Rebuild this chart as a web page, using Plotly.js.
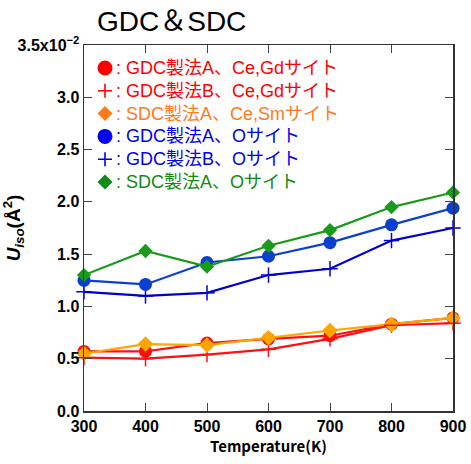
<!DOCTYPE html>
<html><head><meta charset="utf-8">
<script src="https://cdn.plot.ly/plotly-3.0.1.min.js"></script>
<style>html,body{margin:0;padding:0;background:#fff}</style>
</head><body>
<div id="chart" style="width:471px;height:464px"></div>
<script>
var temps = [300, 400, 500, 600, 700, 800, 900];
// values in units of 1e-2 Å^2
var gdcA_CeGd = [0.57, 0.57, 0.65, 0.69, 0.72, 0.83, 0.89];
var gdcB_CeGd = [0.51, 0.50, 0.54, 0.59, 0.69, 0.82, 0.84];
var sdcA_CeSm = [0.55, 0.64, 0.63, 0.70, 0.77, 0.83, 0.89];
var gdcA_O = [1.25, 1.21, 1.42, 1.48, 1.61, 1.78, 1.94];
var gdcB_O = [1.14, 1.10, 1.13, 1.30, 1.36, 1.63, 1.75];
var sdcA_O = [1.30, 1.53, 1.38, 1.58, 1.73, 1.95, 2.09];
var yTickVals = [0, 0.5, 1.0, 1.5, 2.0, 2.5, 3.0, 3.5];
var yTickText = ['0.0', '0.5', '1.0', '1.5', '2.0', '2.5', '3.0', '3.5x10<sup>−2</sup>'];
var xTickVals = [300, 400, 500, 600, 700, 800, 900];
var legendLabels = [
  {sym: 'circle', text: ': GDC製法A、Ce,Gdサイト', color: '#ff0000'},
  {sym: 'plus', text: ': GDC製法B、Ce,Gdサイト', color: '#ff0000'},
  {sym: 'diamond', text: ': SDC製法A、Ce,Smサイト', color: '#ff7a1a'},
  {sym: 'circle', text: ': GDC製法A、Oサイト', color: '#0000ee'},
  {sym: 'plus', text: ': GDC製法B、Oサイト', color: '#0000ee'},
  {sym: 'diamond', text: ': SDC製法A、Oサイト', color: '#138a13'}
];

function tr(y, lineColor, mColor, symbol, size, mline) {
  return {x: temps, y: y, type: 'scatter', mode: 'lines+markers', cliponaxis: false,
    line: {color: lineColor, width: 2.2},
    marker: {color: mColor, symbol: symbol, size: size, line: mline || {width: 0}}};
}
var traces = [
  tr(gdcB_CeGd, '#ff1010', '#ff1010', 'line-ns', 11, {color: '#ff1010', width: 1.5}),
  tr(gdcA_CeGd, '#ff1010', '#ff1010', 'circle', 13),
  tr(sdcA_CeSm, '#ffa500', '#ffa500', 'diamond', 12),
  tr(gdcB_O, '#0000cc', '#0000cc', 'line-ns', 11, {color: '#0000cc', width: 1.5}),
  tr(gdcA_O, '#0a3fd0', '#0a3fd0', 'circle', 13),
  tr(sdcA_O, '#1a9a1a', '#1a9a1a', 'diamond', 11)
];
traces.push({x: temps, y: gdcB_CeGd, type: 'scatter', mode: 'markers', cliponaxis: false, hoverinfo: 'skip',
  marker: {symbol: 'line-ew', size: 11, color: '#ff1010', line: {color: '#ff1010', width: 1.5}}});
traces.push({x: temps, y: gdcB_O, type: 'scatter', mode: 'markers', cliponaxis: false, hoverinfo: 'skip',
  marker: {symbol: 'line-ew', size: 11, color: '#0000cc', line: {color: '#0000cc', width: 1.5}}});

var legFont = 'Liberation Sans, Arial, Noto Sans CJK JP, sans-serif';
var ann = [], shapes = [];
var y0 = 68, dy = 22.8;
legendLabels.forEach(function(l, i) {
  var yp = 1 - (y0 + i * dy - 45) / 366;
  var xp = (105 - 84) / 369;
  var base = {xref: 'paper', yref: 'paper', xsizemode: 'pixel', ysizemode: 'pixel', xanchor: xp, yanchor: yp};
  if (l.sym === 'circle') {
    shapes.push(Object.assign({type: 'circle', x0: -7.5, x1: 7.5, y0: -7.5, y1: 7.5,
      fillcolor: l.color, line: {width: 0}}, base));
  } else if (l.sym === 'diamond') {
    shapes.push(Object.assign({type: 'path', path: 'M0,-7.5 L7.5,0 L0,7.5 L-7.5,0 Z',
      fillcolor: l.color, line: {width: 0}}, base));
  } else {
    shapes.push(Object.assign({type: 'path', path: 'M-7,0 L7,0 M0,-7 L0,7',
      line: {color: l.color, width: 1.6}}, base));
  }
  ann.push({xref: 'paper', yref: 'paper', x: (114 - 84) / 369, y: yp,
    text: l.text, showarrow: false, xanchor: 'left', yanchor: 'middle',
    font: {family: legFont, size: 18, color: l.color}});
});

var layout = {
  width: 471, height: 464,
  margin: {l: 84, r: 18, t: 45, b: 53},
  paper_bgcolor: '#fff', plot_bgcolor: '#fff',
  showlegend: false,
  title: {text: 'GDC＆SDC', x: 97 / 471, xanchor: 'left', y: 1 - 21 / 464, yanchor: 'middle',
    font: {family: 'Liberation Sans, Arial, Noto Sans CJK JP, sans-serif', size: 28, color: '#000'}},
  xaxis: {range: [300, 900], tickvals: xTickVals, ticks: 'inside', ticklen: 8, tickcolor: '#444',
    showline: true, linecolor: '#333', linewidth: 1.5, mirror: 'ticks', showgrid: false, zeroline: false,
    tickfont: {family: 'Liberation Sans, Arial, sans-serif', size: 16, color: '#000', weight: 'bold'},
    title: {text: '<b>Temperature(K)</b>', standoff: 8,
      font: {family: 'Noto Sans CJK JP, sans-serif', size: 15, color: '#000'}}},
  yaxis: {range: [0, 3.5], tickvals: yTickVals, ticktext: yTickText, ticks: 'inside', ticklen: 8, tickcolor: '#444',
    showline: true, linecolor: '#333', linewidth: 1.5, mirror: 'ticks', showgrid: false, zeroline: false,
    tickfont: {family: 'Liberation Sans, Arial, sans-serif', size: 16, color: '#000', weight: 'bold'},
    title: {text: '<b><i>U<sub>iso</sub></i>(Å<sup>2</sup>)</b>', standoff: 6,
      font: {family: 'Liberation Sans, Arial, sans-serif', size: 19, color: '#000'}}},
  annotations: ann,
  shapes: shapes
};
Plotly.newPlot('chart', traces, layout, {staticPlot: true});
</script>
</body></html>
